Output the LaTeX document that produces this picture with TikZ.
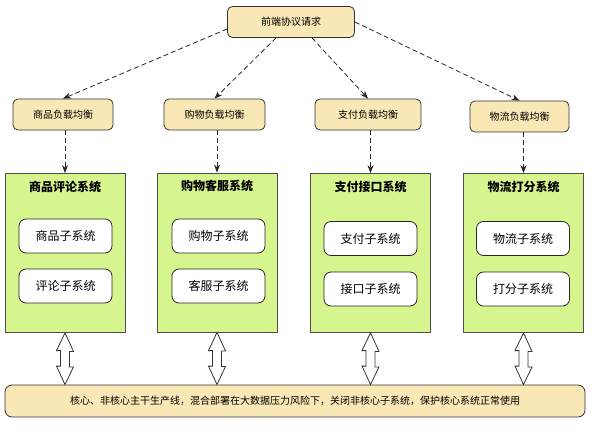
\documentclass[tikz,border=0pt]{standalone}
\usepackage{fontspec}
\setmainfont{Noto Sans CJK SC}
\usetikzlibrary{positioning,arrows.meta}
\definecolor{tanfill}{RGB}{250,231,182}
\definecolor{sysgreen}{RGB}{214,245,142}

\begin{document}
\begin{tikzpicture}[
  x=1pt, y=-1pt,
  font=\fontsize{10}{12}\selectfont,
  every node/.style={inner sep=0pt},
  tan/.style={rectangle, rounded corners=5pt, draw=black!80, line width=0.8pt, fill=tanfill, minimum height=31pt},
  sysbox/.style={rectangle, draw=black!70, line width=0.8pt, fill=sysgreen, minimum width=120pt, minimum height=159pt},
  systitle/.style={font=\fontsize{12}{14}\selectfont\bfseries},
  subbox/.style={rectangle, rounded corners=7pt, draw=black!85, line width=0.8pt, fill=white, minimum width=93pt, minimum height=34pt, font=\fontsize{12}{14}\selectfont},
  req/.style={-{Stealth[length=8pt,width=6pt]}, dash pattern=on 5pt off 3pt, draw=black!85, line width=0.8pt},
  dbl/.style={draw=black!80, line width=0.8pt, fill=white, line join=miter}
]
\useasboundingbox (0,0) rectangle (596,431);

\node[tan, minimum width=127pt] (req) at (291,22) {前端协议请求};

\node[tan, minimum width=100pt] (lb1) at (63,114.5)    {商品负载均衡};
\node[tan, minimum width=101pt] (lb2) at (214.5,114.5) {购物负载均衡};
\node[tan, minimum width=106pt] (lb3) at (368,114.5)   {支付负载均衡};
\node[tan, minimum width=99pt]  (lb4) at (519.5,116.5) {物流负载均衡};

% systems
\node[sysbox] (sys1) at (65,253)    {};
\node[sysbox] (sys2) at (217,252.5) {};
\node[sysbox] (sys3) at (370.5,253) {};
\node[sysbox] (sys4) at (523.5,253) {};

\node[systitle] (ttl1) at (65,187)    {商品评论系统};
\node[systitle] (ttl2) at (217,186)   {购物客服系统};
\node[systitle] (ttl3) at (370.5,187) {支付接口系统};
\node[systitle] (ttl4) at (523.5,187) {物流打分系统};

\node[subbox] (sa1) at (65.5,236)   {商品子系统};
\node[subbox] (sb1) at (65.5,286)   {评论子系统};
\node[subbox] (sa2) at (218.5,236)  {购物子系统};
\node[subbox] (sb2) at (218.5,286)  {客服子系统};
\node[subbox] (sa3) at (370.5,238.5) {支付子系统};
\node[subbox] (sb3) at (370.5,289)   {接口子系统};
\node[subbox] (sa4) at (523,238.5)   {物流子系统};
\node[subbox] (sb4) at (523,289)     {打分子系统};

\node[tan, rounded corners=7pt, minimum width=580pt, minimum height=32pt] (bar) at (295,401)
  {核心、非核心主干生产线，混合部署在大数据压力风险下，关闭非核心子系统，保护核心系统正常使用};

% requests
\draw[req] ([yshift=-7pt]req.west) -- (lb1.north);
\draw[req] ([xshift=-15pt]req.south) -- (lb2.north);
\draw[req] ([xshift=21pt]req.south) -- (lb3.north);
\draw[req] (req.east) -- (lb4.north);

\foreach \i in {1,...,4}
  \draw[req] (sys\i.north |- lb\i.south) -- (sys\i.north);

\foreach \i in {1,...,4}
  \draw[dbl] (sys\i.south) -- ++(8.5,18.5) -- ++(-4,0) -- ++(0,15.5) -- ++(4,0)
    -- (sys\i.south |- bar.north) -- ++(-8.5,-18.5) -- ++(4,0) -- ++(0,-15.5) -- ++(-4,0) -- cycle;
\end{tikzpicture}
\end{document}
